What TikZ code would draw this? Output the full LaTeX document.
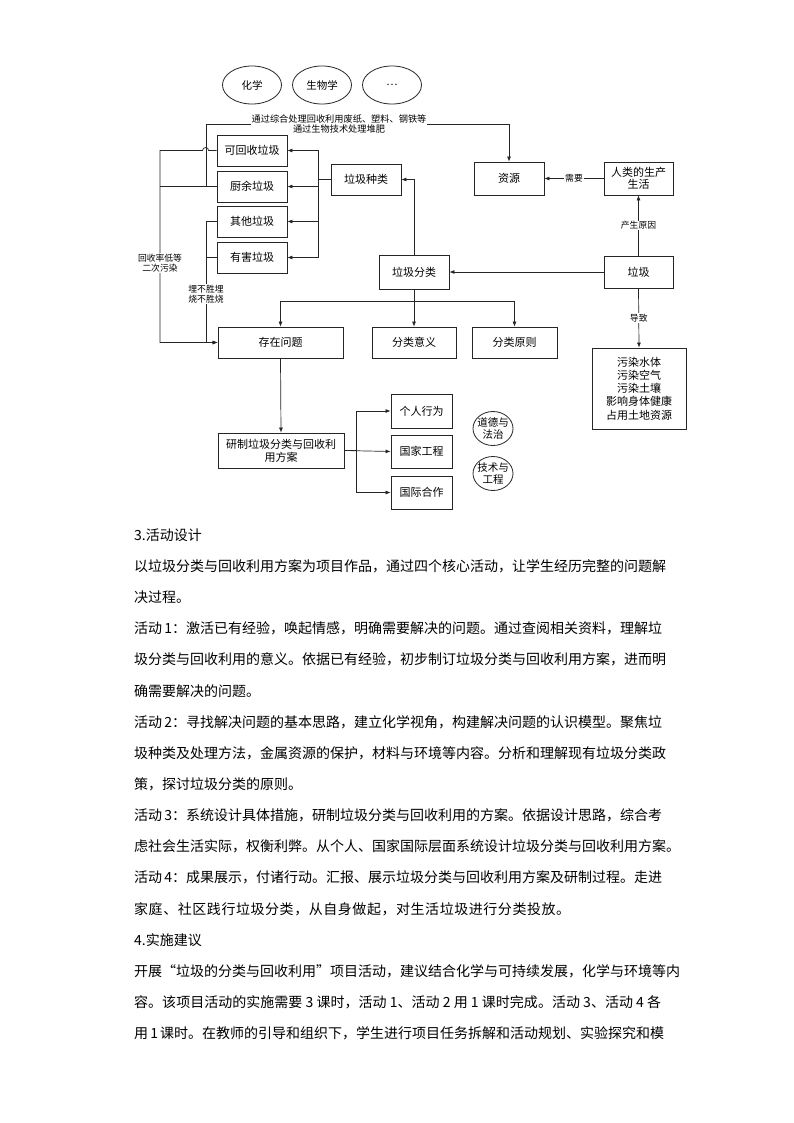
\documentclass[tikz,border=0pt]{standalone}
\usepackage{fontspec}
\setmainfont{Noto Sans CJK SC}
\usetikzlibrary{arrows.meta,shapes.geometric,calc}
\makeatletter
\def\jlend{\jl@marker}
\newcommand\jline[2]{\makebox[#1][s]{\jl@a#2\jlend}}
\def\jl@a#1{#1\jl@b}
\def\jl@b#1{\ifx\jlend#1\else\hskip 0pt plus 1fil\relax#1\expandafter\jl@b\fi}
\makeatother
\begin{document}
\begin{tikzpicture}[x=1pt,y=-1pt,
  box/.style={draw=black!85,line width=0.8pt,rectangle,inner sep=1pt,font=\fontsize{11}{13}\selectfont,align=center},
  oval/.style={draw=black!85,line width=0.8pt,ellipse,inner sep=0pt,minimum width=59pt,minimum height=38pt,font=\fontsize{10.5}{13}\selectfont},
  arr/.style={line width=0.7pt,draw=black!85,-{Latex[length=5pt,width=4pt]}},
  ln/.style={line width=0.7pt,draw=black!85},
  lbl/.style={fill=white,inner sep=0.8pt,font=\fontsize{8.8}{9.8}\selectfont,align=center},
  body/.style={anchor=west,inner sep=0pt,font=\fontsize{14}{15}\selectfont}]
\useasboundingbox (0,0) rectangle (794,1123);
\fill[white] (0,0) rectangle (794,1123);

% top ellipses
\node[oval] (e1) at (252,85) {化学};
\node[oval] (e2) at (322,85) {生物学};
\node[oval] (e3) at (392,85) {…};

% boxes
\node[box,minimum width=70pt,minimum height=31pt] (rec) at (252,150.5) {可回收垃圾};
\node[box,minimum width=70pt,minimum height=31pt] (kit) at (252,186.5) {厨余垃圾};
\node[box,minimum width=70pt,minimum height=31pt] (oth) at (252,221.5) {其他垃圾};
\node[box,minimum width=70pt,minimum height=31pt] (haz) at (252,257.5) {有害垃圾};
\node[box,minimum width=70pt,minimum height=31pt] (kinds) at (366,179.5) {垃圾种类};
\node[box,minimum width=70pt,minimum height=33pt] (res) at (509,178.5) {资源};
\node[box,minimum width=69pt,minimum height=33pt,font=\fontsize{11}{12.5}\selectfont] (life) at (638.5,178.5) {人类的生产\\生活};
\node[box,minimum width=70pt,minimum height=34pt] (cls) at (414,272) {垃圾分类};
\node[box,minimum width=69pt,minimum height=32pt] (gar) at (638.5,272) {垃圾};
\node[box,minimum width=125pt,minimum height=31pt] (prob) at (280.5,342.5) {存在问题};
\node[box,minimum width=84pt,minimum height=31pt] (mean) at (414,342.5) {分类意义};
\node[box,minimum width=85pt,minimum height=31pt] (prin) at (514.5,342.5) {分类原则};
\node[box,minimum width=94pt,minimum height=81pt,font=\fontsize{11}{13.3}\selectfont] (pol) at (639,388.5) {污染水体\\污染空气\\污染土壤\\影响身体健康\\占用土地资源};
\node[box,minimum width=126pt,minimum height=35pt,font=\fontsize{11}{13}\selectfont] (plan) at (281,450.5) {研制垃圾分类与回收利\\用方案};
\node[box,minimum width=61pt,minimum height=34pt] (p1) at (421.5,411) {个人行为};
\node[box,minimum width=61pt,minimum height=33pt] (p2) at (421.5,451.5) {国家工程};
\node[box,minimum width=61pt,minimum height=33pt] (p3) at (421.5,492.5) {国际合作};

% small ellipses
\node[font=\fontsize{10.5}{12}\selectfont,align=center,inner sep=0pt] (m1) at (493,428.5) {道德与\\法治};
\draw[line width=0.8pt,draw=black!85] (m1.center) ellipse [x radius=20, y radius=17];
\node[font=\fontsize{10.5}{12}\selectfont,align=center,inner sep=0pt] (m2) at (493,473.5) {技术与\\工程};
\draw[line width=0.8pt,draw=black!85] (m2.center) ellipse [x radius=20, y radius=17];

% coordinates
\coordinate (L1) at (160,342.5);
\coordinate (L2) at (206,342.5);
\coordinate (T) at (206,124);

% kinds -> four boxes
\draw[line width=1.6pt,draw=black!85] (kinds.west) -- ++(-12,0);
\draw[arr] (kinds.west) -- ++(-12,0) |- (rec.east);
\draw[arr] (kinds.west) -- ++(-12,0) |- (kit.east);
\draw[arr] (kinds.west) -- ++(-12,0) |- (oth.east);
\draw[arr] (kinds.west) -- ++(-12,0) |- (haz.east);

% cls -> kinds
\draw[arr] (cls.north) |- (kinds.east);
% gar -> cls, life, pol
\draw[arr] (gar.west) -- (cls.east);
\draw[arr] (gar.north) -- node[lbl] {产生原因} (life.south);
\draw[arr] (life.west) -- node[lbl] {需要} (res.east);
\draw[arr] (gar.south) -- node[lbl,pos=0.5] {导致} (pol.north);

% cls -> three boxes below
\draw[arr] (cls.south) -- ++(0,12) -| (prob.north);
\draw[arr] (cls.south) -- (mean.north);
\draw[arr] (cls.south) -- ++(0,12) -| (prin.north);

% left loops
\draw[arr] (rec.west) -- ++(-8,0) arc[start angle=0,end angle=-180,radius=3] -| (L1) -- (prob.west);
\draw[ln] (kit.west) -- (kit.west -| L1);
\draw[arr] (kit.west -| T) -- (T) -| (res.north);
\draw[arr] (oth.west) -| (L2) -- (prob.west);
\draw[ln] (haz.west) -- (haz.west -| L2);

\node[lbl,font=\fontsize{9.2}{9.6}\selectfont] (toplbl) at (339,124) {通过综合处理回收利用废纸、塑料、钢铁等\\通过生物技术处理堆肥};
\node[lbl] (lbl1) at (160,263) {回收率低等\\二次污染};
\node[lbl] (lbl2) at (206,294) {埋不胜埋\\烧不胜烧};

% plan
\draw[arr] (prob.south) -- (plan.north);
\draw[arr] (plan.east) -- ++(12,0) |- (p1.west);
\draw[arr] (plan.east) -- (p2.west);
\draw[arr] (plan.east) -- ++(12,0) |- (p3.west);

% body text
\node[body] (t0) at (134,535) {3.活动设计};
\node[body] (t1) at (134,566.1) {\jline{527pt}{以垃圾分类与回收利用方案为项目作品，通过四个核心活动，让学生经历完整的问题解}};
\node[body] (t2) at (134,597.3) {\jline{56pt}{决过程。}};
\node[body] (t3) at (134,628.4) {\jline{527pt}{活动~1：激活已有经验，唤起情感，明确需要解决的问题。通过查阅相关资料，理解垃}};
\node[body] (t4) at (134,659.6) {\jline{527pt}{圾分类与回收利用的意义。依据已有经验，初步制订垃圾分类与回收利用方案，进而明}};
\node[body] (t5) at (134,690.7) {\jline{126pt}{确需要解决的问题。}};
\node[body] (t6) at (134,721.9) {\jline{527pt}{活动~2：寻找解决问题的基本思路，建立化学视角，构建解决问题的认识模型。聚焦垃}};
\node[body] (t7) at (134,753.0) {\jline{527pt}{圾种类及处理方法，金属资源的保护，材料与环境等内容。分析和理解现有垃圾分类政}};
\node[body] (t8) at (134,784.2) {\jline{168pt}{策，探讨垃圾分类的原则。}};
\node[body] (t9) at (134,815.3) {\jline{527pt}{活动~3：系统设计具体措施，研制垃圾分类与回收利用的方案。依据设计思路，综合考}};
\node[body] (t10) at (134,846.5) {\jline{545pt}{虑社会生活实际，权衡利弊。从个人、国家国际层面系统设计垃圾分类与回收利用方案。}};
\node[body] (t11) at (134,877.6) {\jline{527pt}{活动~4：成果展示，付诸行动。汇报、展示垃圾分类与回收利用方案及研制过程。走进}};
\node[body] (t12) at (134,908.8) {\jline{436pt}{家庭、社区践行垃圾分类，从自身做起，对生活垃圾进行分类投放。}};
\node[body] (t13) at (134,939.9) {4.实施建议};
\node[body] (t14) at (134,971.1) {\jline{527pt}{开展“垃圾的分类与回收利用”项目活动，建议结合化学与可持续发展，化学与环境等内}};
\node[body] (t15) at (134,1002.2) {\jline{527pt}{容。该项目活动的实施需要~3~课时，活动~1、活动~2~用~1~课时完成。活动~3、活动~4~各}};
\node[body] (t16) at (134,1033.4) {\jline{527pt}{用~1~课时。在教师的引导和组织下，学生进行项目任务拆解和活动规划、实验探究和模}};
\end{tikzpicture}
\end{document}
